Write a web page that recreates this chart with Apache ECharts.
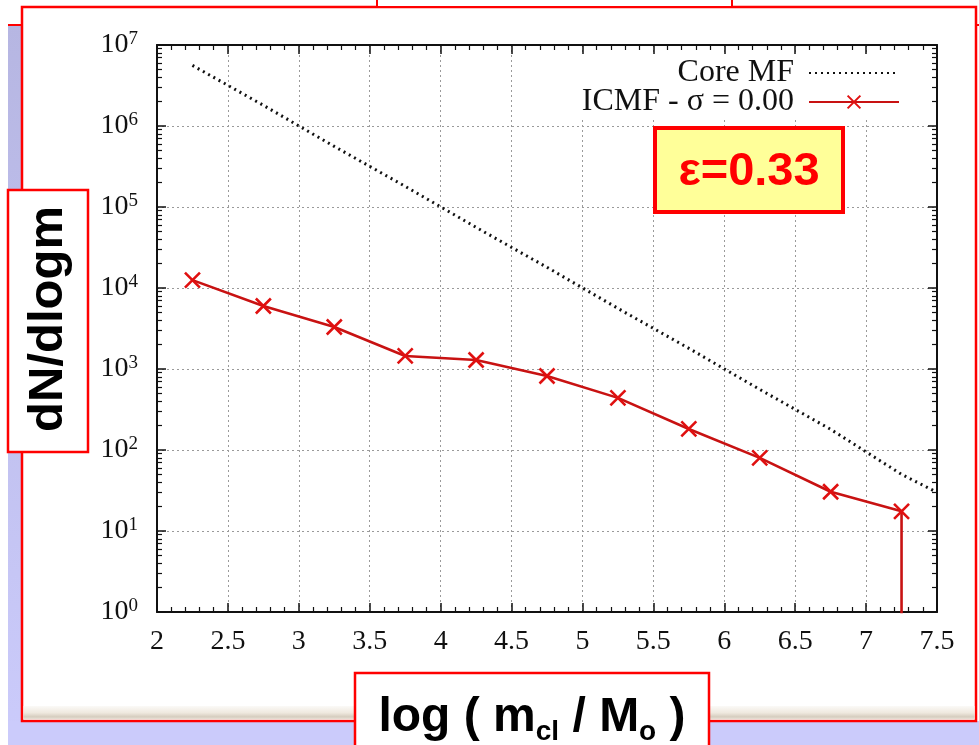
<!DOCTYPE html>
<html><head><meta charset="utf-8">
<script src="https://cdn.jsdelivr.net/npm/echarts@6/dist/echarts.min.js"></script>
<style>html,body{margin:0;padding:0;background:#fff}#c{width:979px;height:745px}</style>
</head><body><div id="c"></div>
<script>
// ---- data ----
const binCenters = [2.25, 2.75, 3.25, 3.75, 4.25, 4.75, 5.25, 5.75, 6.25, 6.75, 7.25];
const icmfValues = [12500, 6000, 3300, 1450, 1290, 820, 440, 182, 80, 30.5, 17.5];
const icmfTailX = [7.25];          // last bin drops to zero
const icmfTailValues = [0];
const coreX = [2.25, 2.75, 3.25, 3.75, 4.25, 4.75, 5.25, 5.75, 6.25, 6.75, 7.25, 7.5];
const coreValues = [5.6e6, 1.8e6, 5.6e5, 1.8e5, 5.6e4, 1.8e4, 5600, 1800, 560, 180, 50, 30];
const xTickLabels = ['2', '2.5', '3', '3.5', '4', '4.5', '5', '5.5', '6', '6.5', '7', '7.5'];
const yExponents = [0, 1, 2, 3, 4, 5, 6, 7];
const legendNames = ['Core MF', 'ICMF - \u03c3 = 0.00'];
const epsText = '\u03b5=0.33';

// ---- build ----
const LOG_FLOOR = 1e-3;
const icmfData = binCenters.map((x, i) => [x, icmfValues[i]])
  .concat(icmfTailX.map((x, i) => ({ value: [x, icmfTailValues[i] > 0 ? icmfTailValues[i] : LOG_FLOOR], symbol: 'none' })));
const coreData = coreX.map((x, i) => [x, coreValues[i]]);
const minorLog = [];
yExponents.slice(0, -1).forEach(e => { for (let k = 2; k <= 9; k++) minorLog.push(e + Math.log10(k)); });

const SERIF = '"Liberation Serif","DejaVu Serif",serif';
const SANS = '"Liberation Sans",Arial,sans-serif';
const gridRect = { left: 157, right: 42, top: 45, bottom: 133 };
const gridLine = { show: true, lineStyle: { color: '#9a9a9a', width: 1, type: [2, 3] } };
const axLine = { show: true, lineStyle: { color: '#111', width: 2 } };

const chart = echarts.init(document.getElementById('c'), null, { renderer: 'canvas' });
chart.setOption({
  animation: false,
  backgroundColor: '#fff',
  grid: [Object.assign({ show: false }, gridRect), Object.assign({ show: false }, gridRect)],
  legend: {
    orient: 'vertical', right: 74, top: 55, align: 'right', padding: [2, 5, 2, 5],
    backgroundColor: '#fff',
    itemWidth: 90, itemHeight: 16, itemGap: -3,
    textStyle: { fontFamily: SERIF, fontSize: 32, color: '#111', padding: [0, 10, 0, 0] },
    data: [
      { name: legendNames[0], itemStyle: { opacity: 0 } },
      { name: legendNames[1] }
    ]
  },
  xAxis: [
    { type: 'value', gridIndex: 0, position: 'bottom', min: 2, max: 7.5, interval: 0.5,
      axisLine: axLine, splitLine: gridLine,
      axisTick: { inside: true, length: 9, lineStyle: { color: '#111', width: 1.5 } },
      minorTick: { show: true, splitNumber: 5, length: 5, lineStyle: { color: '#111', width: 1.2 } },
      axisLabel: { margin: 16, color: '#111', fontFamily: SERIF, fontSize: 28,
        formatter: v => xTickLabels[Math.round((v - 2) / 0.5)] } },
    { type: 'value', gridIndex: 0, position: 'top', min: 2, max: 7.5, interval: 0.5,
      axisLine: axLine, splitLine: { show: false }, axisLabel: { show: false },
      axisTick: { inside: true, length: 9, lineStyle: { color: '#111', width: 1.5 } },
      minorTick: { show: true, splitNumber: 5, length: 5, lineStyle: { color: '#111', width: 1.2 } } },
    { type: 'value', gridIndex: 1, position: 'bottom', min: 2, max: 7.5, show: false }
  ],
  yAxis: [
    { type: 'log', logBase: 10, gridIndex: 0, position: 'left', min: 1, max: 1e7,
      axisLine: axLine, splitLine: gridLine,
      axisTick: { inside: true, length: 9, lineStyle: { color: '#111', width: 1.5 } },
      axisLabel: { margin: 19, color: '#111',
        formatter: v => '{b|10}{s|' + Math.round(Math.log10(v)) + '}',
        rich: { b: { fontFamily: SERIF, fontSize: 28, lineHeight: 30, color: '#111' },
                s: { fontFamily: SERIF, fontSize: 19, lineHeight: 20, verticalAlign: 'top', color: '#111' } } } },
    { type: 'log', logBase: 10, gridIndex: 0, position: 'right', min: 1, max: 1e7,
      axisLine: axLine, splitLine: { show: false }, axisLabel: { show: false },
      axisTick: { inside: true, length: 9, lineStyle: { color: '#111', width: 1.5 } } },
    { type: 'value', gridIndex: 1, position: 'left', min: 0, max: 7,
      axisLine: { show: false }, splitLine: { show: false }, axisLabel: { show: false },
      axisTick: { show: true, inside: true, length: 5, customValues: minorLog, lineStyle: { color: '#111', width: 1.2 } } },
    { type: 'value', gridIndex: 1, position: 'right', min: 0, max: 7,
      axisLine: { show: false }, splitLine: { show: false }, axisLabel: { show: false },
      axisTick: { show: true, inside: true, length: 5, customValues: minorLog, lineStyle: { color: '#111', width: 1.2 } } }
  ],
  series: [
    { name: legendNames[0], type: 'line', xAxisIndex: 0, yAxisIndex: 0, data: coreData,
      symbol: 'none', lineStyle: { color: '#111', width: 3, type: [2, 4] }, itemStyle: { color: '#111' }, z: 3 },
    { name: legendNames[1], type: 'line', xAxisIndex: 0, yAxisIndex: 0, data: icmfData,
      symbol: 'path://M0,0L10,10M10,0L0,10', symbolSize: 15,
      itemStyle: { color: '#e01010', borderColor: '#e01010', borderWidth: 2.6 },
      lineStyle: { color: '#c81212', width: 2.6 }, z: 4 }
  ],
  graphic: [
    { type: 'rect', z: -100, shape: { x: 8, y: 25, width: 14, height: 720 },
      style: { fill: new echarts.graphic.LinearGradient(0, 0, 0, 1, [{ offset: 0, color: '#b6b6e2' }, { offset: 1, color: '#cbcbfb' }]) } },
    { type: 'rect', z: -100, shape: { x: 8, y: 721, width: 971, height: 24 }, style: { fill: '#cbcbfb' } },
    { type: 'line', z: -99, shape: { x1: 8, y1: 25, x2: 22, y2: 25 }, style: { stroke: '#ff0000', lineWidth: 2 } },
    { type: 'line', z: -99, shape: { x1: 976, y1: 25, x2: 979, y2: 25 }, style: { stroke: '#ff0000', lineWidth: 2 } },
    { type: 'rect', z: -98, shape: { x: 22, y: 7, width: 954, height: 714 }, style: { fill: '#fff', stroke: '#ff0000', lineWidth: 2.5 } },
    { type: 'rect', z: -97, shape: { x: 23.5, y: 706, width: 951, height: 13.5 },
      style: { fill: new echarts.graphic.LinearGradient(0, 0, 0, 1, [
        { offset: 0, color: '#fbfaf7' }, { offset: 0.5, color: '#efe9df' }, { offset: 0.8, color: '#d6cdbf' }, { offset: 1, color: '#ebe4da' }]) } },
    { type: 'rect', z: -96, shape: { x: 377, y: -10, width: 355, height: 17 }, style: { fill: '#fff', stroke: '#ff0000', lineWidth: 2 } },
    // epsilon box
    { type: 'rect', z: 50, shape: { x: 655, y: 128, width: 188, height: 84 }, style: { fill: '#ffff99', stroke: '#ff0000', lineWidth: 4 } },
    { type: 'text', z: 51, x: 749, y: 172, style: { text: epsText, font: 'bold 47px ' + SANS, fill: '#ff0000', align: 'center', verticalAlign: 'middle' } },
    // y label box
    { type: 'rect', z: 50, shape: { x: 8, y: 190, width: 80, height: 262 }, style: { fill: '#fff', stroke: '#ff0000', lineWidth: 2.5 } },
    { type: 'text', z: 51, x: 48, y: 319, rotation: Math.PI / 2,
      style: { text: 'dN/dlogm', font: 'bold 49px ' + SANS, fill: '#000', align: 'center', verticalAlign: 'middle' } },
    // x label box
    { type: 'rect', z: 50, shape: { x: 355, y: 673, width: 354, height: 100 }, style: { fill: '#fff', stroke: '#ff0000', lineWidth: 2.5 } },
    { type: 'text', z: 51, x: 532, y: 690,
      style: { text: '{a|log ( m}{b|cl}{a| / M}{b|o}{a| )}', align: 'center', verticalAlign: 'top',
        rich: { a: { font: 'bold 48px ' + SANS, fill: '#000', lineHeight: 56 },
                b: { font: 'bold 28px ' + SANS, fill: '#000', lineHeight: 20, verticalAlign: 'bottom' } } } }
  ]
});
</script></body></html>
